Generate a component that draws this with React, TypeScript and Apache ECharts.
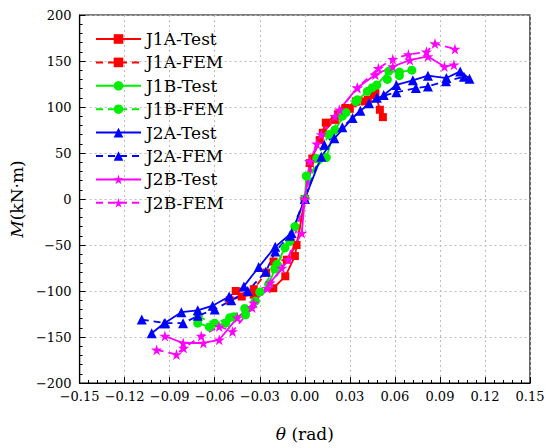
import React, { useEffect, useRef } from "react";
import * as echarts from "echarts";

const xTicks = { min: -0.15, max: 0.15, interval: 0.03 };
const yTicks = { min: -200, max: 200, interval: 50 };

const seriesNames = ["J1A-Test", "J1A-FEM", "J1B-Test", "J1B-FEM", "J2A-Test", "J2A-FEM", "J2B-Test", "J2B-FEM"];

const j1aTest: [number, number][] = [
  [-0.05, -110], [-0.042, -106], [-0.034, -104], [-0.021, -97], [-0.013, -84], [-0.0066, -62], [0, 0],
  [0.0033, 39], [0.0099, 64], [0.014, 83], [0.022, 92], [0.027, 99], [0.034, 106], [0.042, 108],
  [0.047, 115], [0.05, 97], [0.052, 89],
];
const j1aFem: [number, number][] = [
  [-0.046, -100], [-0.034, -98], [-0.0257, -80], [-0.0208, -68], [-0.012, -66], [-0.0055, -50], [0, 0],
  [0.005, 44], [0.012, 72], [0.02, 86], [0.03, 98], [0.04, 106], [0.046, 113],
];
const j1bTest: [number, number][] = [
  [-0.0713, -135], [-0.0636, -139], [-0.0526, -135], [-0.0472, -128], [-0.0395, -126], [-0.0329, -111],
  [-0.0241, -93], [-0.0186, -71], [-0.0132, -53], [-0.0066, -30], [0, 0], [0.001, 25], [0.0143, 45],
  [0.02, 75], [0.0274, 94], [0.034, 106], [0.0417, 117], [0.048, 124], [0.056, 139], [0.063, 138], [0.0713, 140],
];
const j1bFem: [number, number][] = [
  [-0.071, -128], [-0.06, -135], [-0.05, -129], [-0.04, -119], [-0.03, -101], [-0.02, -76], [-0.01, -46], [0, 0],
  [0.008, 44], [0.016, 70], [0.025, 90], [0.035, 108], [0.045, 121], [0.055, 130], [0.063, 134],
];
const j2aTest: [number, number][] = [
  [-0.102, -146], [-0.0936, -135], [-0.0822, -123], [-0.0713, -121], [-0.0614, -116], [-0.0504, -106],
  [-0.0406, -95], [-0.0307, -74], [-0.0197, -52], [-0.0088, -37], [0, 0], [0.011, 46], [0.0197, 66],
  [0.0318, 88], [0.0428, 104], [0.0526, 113], [0.061, 124], [0.072, 129], [0.082, 134], [0.0943, 131.5],
  [0.1035, 138.7], [0.1097, 130.8],
];
const j2aFem: [number, number][] = [
  [-0.1086, -131], [-0.093, -135], [-0.0811, -135], [-0.0713, -127], [-0.06, -120], [-0.049, -110],
  [-0.038, -100], [-0.026, -79], [-0.0197, -57], [-0.01, -40], [0, 0], [0.013, 59], [0.025, 78],
  [0.037, 96], [0.048, 110], [0.061, 116], [0.074, 120.6], [0.082, 122.4], [0.094, 128], [0.106, 133],
];
const j2bTest: [number, number][] = [
  [-0.0932, -149], [-0.081, -156.5], [-0.0675, -156.5], [-0.057, -153], [-0.0449, -129], [-0.034, -113],
  [-0.023, -91], [-0.0153, -75], [-0.002, -37], [0, 0], [0.0033, 41], [0.011, 70], [0.023, 97],
  [0.035, 121], [0.047, 135], [0.0586, 144], [0.07, 151], [0.082, 155], [0.093, 144], [0.0993, 146],
];
const j2bFem: [number, number][] = [
  [-0.0987, -164], [-0.0855, -169], [-0.0807, -162], [-0.069, -149], [-0.057, -138.5], [-0.0482, -144],
  [-0.035, -118], [-0.025, -97], [-0.011, -66], [0, 0], [0.008, 60], [0.02, 90], [0.035, 121],
  [0.049, 142], [0.0586, 152], [0.069, 157], [0.081, 160], [0.0867, 169], [0.1, 163],
];

const seriesData = [j1aTest, j1aFem, j1bTest, j1bFem, j2aTest, j2aFem, j2bTest, j2bFem];
const colors = ["#ff0000", "#ff0000", "#00ee00", "#00ee00", "#0000ff", "#0000ff", "#ff00ff", "#ff00ff"];
const STAR = "path://M50,0 L61,35 L98,35 L68,57 L79,91 L50,70 L21,91 L32,57 L2,35 L39,35 Z";
const symbols = ["rect", "rect", "circle", "circle", "triangle", "triangle", STAR, STAR];
const symbolSizes = [8, 8, 9, 9, 10, 10, 11, 11];

const FONT = "DejaVu Serif";
const xLabel = (v: number) => {
  const s = Math.abs(v) < 1e-9 ? "0.00" : v.toFixed(2);
  return s.replace("-", "\u2212");
};
const yLabel = (v: number) => String(Math.round(v)).replace("-", "\u2212");

export default function App() {
  const ref = useRef<HTMLDivElement>(null);
  useEffect(() => {
    if (!ref.current) return;
    const chart = echarts.init(ref.current, undefined, { renderer: "svg" });
    const series = seriesNames.map((name, i) => ({
      name,
      type: "line",
      data: seriesData[i],
      symbol: symbols[i],
      symbolSize: symbolSizes[i],
      showAllSymbol: true,
      itemStyle: { color: colors[i] },
      lineStyle: { color: colors[i], width: 1.8, type: i % 2 === 0 ? "solid" : [7, 5] },
      z: 2,
    }));
    chart.setOption({
      animation: false,
      backgroundColor: "#fff",
      grid: { left: 71, right: 20, top: 15, bottom: 65, show: true, borderColor: "#000", borderWidth: 1.2 },
      legend: {
        orient: "vertical",
        left: 90,
        top: 25,
        itemWidth: 45,
        itemHeight: 12,
        itemGap: 5.4,
        textStyle: { fontFamily: FONT, fontSize: 17, color: "#000", lineHeight: 18 },
        data: seriesNames,
      },
      xAxis: {
        type: "value",
        min: xTicks.min,
        max: xTicks.max,
        interval: xTicks.interval,
        name: "{i|θ} (rad)",
        nameLocation: "middle",
        nameGap: 42,
        nameTextStyle: {
          fontFamily: FONT,
          fontSize: 17,
          color: "#000",
          rich: { i: { fontFamily: FONT, fontSize: 17, fontStyle: "italic", color: "#000" } },
        },
        axisLine: { onZero: false, lineStyle: { color: "#000", width: 1.2 } },
        axisTick: { inside: true, length: 6, lineStyle: { color: "#000" } },
        minorTick: { show: true, splitNumber: 5, length: 3, lineStyle: { color: "#000" } },
        axisLabel: { fontFamily: FONT, fontSize: 13, color: "#000", margin: 7, formatter: xLabel },
        splitLine: { show: true, lineStyle: { color: "#bbb", type: [2, 3], width: 1 } },
      },
      yAxis: {
        type: "value",
        min: yTicks.min,
        max: yTicks.max,
        interval: yTicks.interval,
        name: "{i|M}(kN·m)",
        nameLocation: "middle",
        nameGap: 49,
        nameTextStyle: {
          fontFamily: FONT,
          fontSize: 17,
          color: "#000",
          rich: { i: { fontFamily: FONT, fontSize: 17, fontStyle: "italic", color: "#000" } },
        },
        axisLine: { onZero: false, lineStyle: { color: "#000", width: 1.2 } },
        axisTick: { inside: true, length: 6, lineStyle: { color: "#000" } },
        minorTick: { show: true, splitNumber: 5, length: 3, lineStyle: { color: "#000" } },
        axisLabel: { fontFamily: FONT, fontSize: 13, color: "#000", margin: 8, formatter: yLabel },
        splitLine: { show: true, lineStyle: { color: "#bbb", type: [2, 3], width: 1 } },
      },
      series,
    });
    return () => chart.dispose();
  }, []);
  return <div ref={ref} style={{ width: 550, height: 448, position: "absolute", left: 0, top: 0 }} />;
}
